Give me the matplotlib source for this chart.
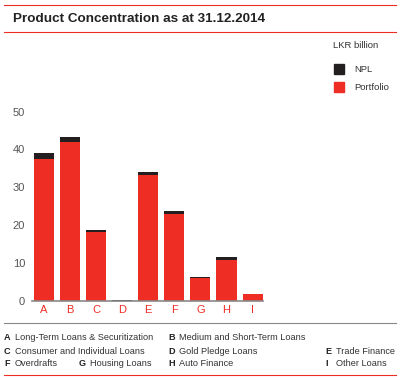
import numpy as np
import matplotlib.pyplot as plt
from matplotlib.lines import Line2D
from matplotlib.patches import Rectangle

plt.rcParams['font.family'] = ['Liberation Sans', 'DejaVu Sans']

# data (LKR billion)
cats = ["A", "B", "C", "D", "E", "F", "G", "H", "I"]
portfolio = [37.5, 42.0, 18.3, 0.1, 33.3, 23.0, 6.2, 10.9, 1.9]
npl = [1.6, 1.3, 0.5, 0.25, 0.8, 0.8, 0.2, 0.8, 0.0]

key_letters = ["A", "B", "C", "D", "E", "F", "G", "H", "I"]
key_names = ["Long-Term Loans & Securitization", "Medium and Short-Term Loans",
             "Consumer and Individual Loans", "Gold Pledge Loans", "Trade Finance",
             "Overdrafts", "Housing Loans", "Auto Finance", "Other Loans"]

red = "#EE2D24"
black = "#231F20"
grey = "#555555"

fig = plt.figure(figsize=(4, 3.8), dpi=100)
W, H = 400.0, 380.0

# axes
ax = fig.add_axes([32 / W, 1 - 301 / H, (263 - 32) / W, (301 - 111.5) / H])
x = np.arange(len(cats))
ax.bar(x, portfolio, width=0.77, color=red)
ax.bar(x, npl, width=0.77, bottom=portfolio, color=black)
ax.set_xlim(-0.46, 8.4)
ax.set_ylim(0, 50)
ax.set_yticks([0, 10, 20, 30, 40, 50])
ax.set_xticks(x)
ax.set_xticklabels(cats, color=red, fontsize=8)
ax.tick_params(axis='y', labelsize=8, labelcolor=grey, length=0, pad=5)
ax.tick_params(axis='x', length=0, pad=3)
for s in ["left", "right", "top"]:
    ax.spines[s].set_visible(False)
ax.spines["bottom"].set_color("#888888")
ax.spines["bottom"].set_linewidth(1.2)

# title and frame lines
fig.add_artist(Line2D([4 / W, 396 / W], [1 - 5 / H, 1 - 5 / H], color=red, lw=0.8))
fig.add_artist(Line2D([4 / W, 396 / W], [1 - 32 / H, 1 - 32 / H], color=red, lw=0.8))
fig.text(13 / W, 1 - 18.5 / H, "Product Concentration as at 31.12.2014", fontsize=9.7,
         fontweight="bold", color="#222222", va="center")

# unit and legend
fig.text(333 / W, 1 - 46 / H, "LKR billion", fontsize=6.8, color="#333333", va="center")
fig.add_artist(Rectangle((334 / W, 1 - 74 / H), 10 / W, 10 / H, color=black))
fig.add_artist(Rectangle((334 / W, 1 - 92 / H), 10 / W, 10 / H, color=red))
fig.text(354 / W, 1 - 69 / H, "NPL", fontsize=6.8, color="#333333", va="center")
fig.text(354 / W, 1 - 87 / H, "Portfolio", fontsize=6.8, color="#333333", va="center")

# key below the chart
fig.add_artist(Line2D([4 / W, 396 / W], [1 - 323 / H, 1 - 323 / H], color="#888888", lw=0.8))
fig.add_artist(Line2D([4 / W, 396 / W], [1 - 375 / H, 1 - 375 / H], color=red, lw=0.8))
pos = [(4, 338), (168, 338), (4, 351), (168, 351), (325, 351),
       (4, 364), (79, 364), (168, 364), (325, 364)]
for (px, py), k, name in zip(pos, key_letters, key_names):
    fig.text(px / W, 1 - py / H, k, fontsize=6.6, fontweight="bold", color="#222222", va="center")
    fig.text((px + 11) / W, 1 - py / H, name, fontsize=6.6, color="#333333", va="center")

fig.savefig("out.png", dpi=100)
